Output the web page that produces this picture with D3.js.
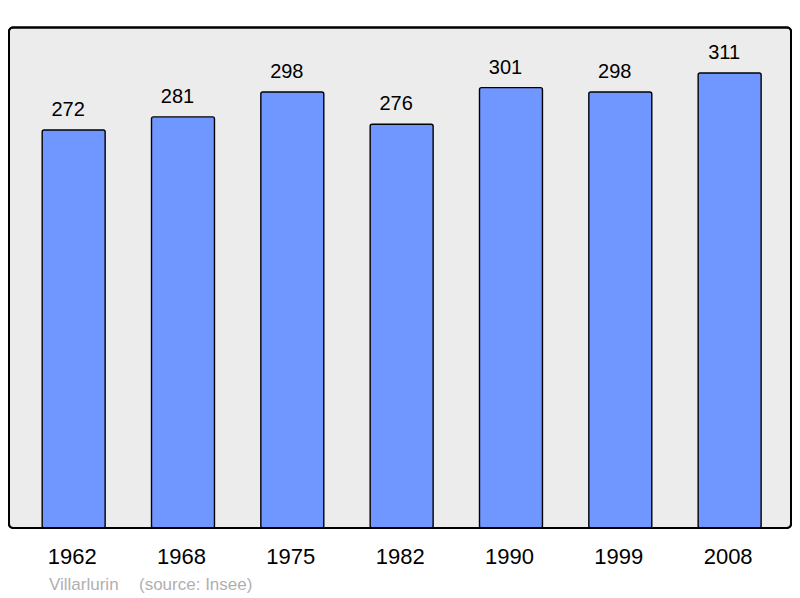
<!DOCTYPE html>
<html><head><meta charset="utf-8">
<script src="https://cdn.jsdelivr.net/npm/d3@7"></script>
<style>html,body{margin:0;padding:0;background:#fff;}svg{display:block;}</style>
</head><body>
<svg id="c" width="800" height="598"></svg>
<script>
const years = ["1962","1968","1975","1982","1990","1999","2008"];
const population = [272,281,298,276,301,298,311];
const commune = "Villarlurin";
const source = "(source: Insee)";

const svg = d3.select("#c");
const frame = {x0: 9, y0: 27.5, x1: 791, y1: 528};
const font = "Liberation Sans, Arial, sans-serif";

svg.append("rect").attr("x", frame.x0).attr("y", frame.y0)
  .attr("width", frame.x1 - frame.x0).attr("height", frame.y1 - frame.y0)
  .attr("rx", 4).attr("fill", "#ececec").attr("stroke", "#000").attr("stroke-width", 2);

const x = d3.scaleBand().domain(years).range([19, 784.3]).paddingInner(0.424).paddingOuter(0.212);
const y = d3.scaleLinear().domain([0, d3.max(population) * 1.1]).range([frame.y1, frame.y0]);

const g = svg.append("g");
g.selectAll("rect.bar").data(years).join("rect").attr("class","bar")
  .attr("x", d => x(d)).attr("width", x.bandwidth())
  .attr("y", (d,i) => y(population[i])).attr("height", (d,i) => frame.y1 - y(population[i]))
  .attr("rx", 2).attr("fill", "#7096ff").attr("stroke", "#000").attr("stroke-width", 1.4);

g.selectAll("text.val").data(years).join("text").attr("class","val")
  .attr("x", d => x(d) + x.bandwidth()/2 - 5.5).attr("y", (d,i) => y(population[i]) - 14)
  .attr("text-anchor","middle").attr("font-family", font).attr("font-size", 20).attr("fill","#000")
  .text((d,i) => population[i]);

svg.append("rect").attr("x", frame.x0).attr("y", frame.y0)
  .attr("width", frame.x1 - frame.x0).attr("height", frame.y1 - frame.y0)
  .attr("rx", 4).attr("fill", "none").attr("stroke", "#000").attr("stroke-width", 2);

const xAxis = svg.append("g").attr("transform", `translate(-1.5,${frame.y1})`)
  .call(d3.axisBottom(x).tickSize(0).tickPadding(0));
xAxis.select(".domain").remove();
xAxis.selectAll("text").attr("dy", null).attr("y", 36)
  .attr("font-family", font).attr("font-size", 22).attr("fill", "#000");

svg.append("text").attr("x", 49).attr("y", 590).attr("font-family", font).attr("font-size", 17)
  .attr("fill", "#b0b0b0").text(commune);
svg.append("text").attr("x", 139).attr("y", 590).attr("font-family", font).attr("font-size", 17)
  .attr("fill", "#b0b0b0").text(source);
</script>
</body></html>
